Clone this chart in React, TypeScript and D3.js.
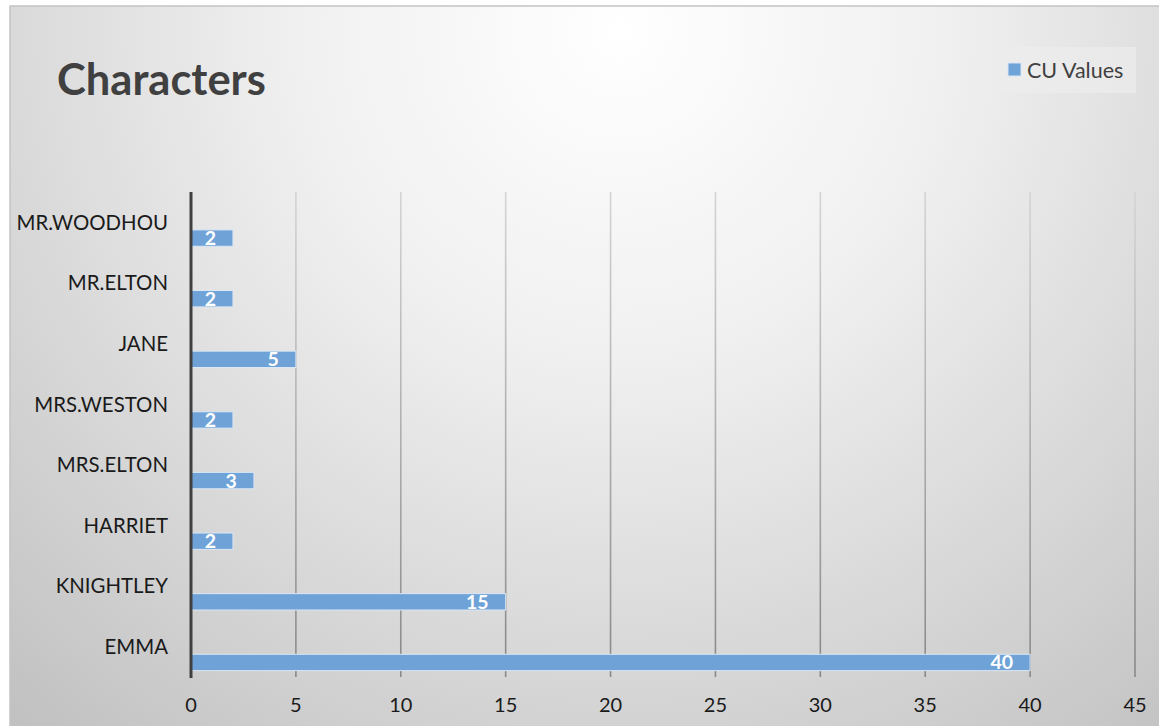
import React from "react";
import * as d3 from "d3";

const categories = ["EMMA", "KNIGHTLEY", "HARRIET", "MRS.ELTON", "MRS.WESTON", "JANE", "MR.ELTON", "MR.WOODHOU"];
const cuValues = [40, 15, 2, 3, 2, 5, 2, 2];
const xTicks = [0, 5, 10, 15, 20, 25, 30, 35, 40, 45];
const seriesName = "CU Values";
const title = "Characters";

const W = 1159;
const H = 726;
const FONT = "Lato, 'Open Sans', sans-serif";

export default function App() {
  const x = d3.scaleLinear().domain([0, 45]).range([191, 1135]);
  const y = d3.scaleBand().domain([...categories].reverse()).range([192, 677]).paddingInner(0).paddingOuter(0);
  const bw = y.bandwidth();
  const barTop = (c: string) => (y(c) as number) + bw * 0.625;
  const barH = bw * 0.27;

  return (
    <svg width={W} height={H} style={{ position: "absolute", left: 0, top: 0 }} fontFamily={FONT}>
      <defs>
        <radialGradient id="bg" gradientUnits="userSpaceOnUse" cx={620} cy={30} r={930}>
          <stop offset="0" stopColor="#ffffff" />
          <stop offset="0.35" stopColor="#f0f0f0" />
          <stop offset="1" stopColor="#c0c0c0" />
        </radialGradient>
        <linearGradient id="grid" gradientUnits="userSpaceOnUse" x1={0} y1={192} x2={0} y2={677}>
          <stop offset="0" stopColor="#d4d4d4" />
          <stop offset="1" stopColor="#888888" />
        </linearGradient>
      </defs>
      <rect x={0} y={0} width={W} height={H} fill="#ffffff" />
      <rect x={10} y={6} width={W + 20} height={H + 20} fill="url(#bg)" stroke="#c4c4c4" strokeWidth={1.5} />

      <text x={57} y={95} fontSize={43.5} fontWeight={700} fill="#404040">{title}</text>

      {/* legend */}
      <rect x={986} y={47} width={150} height={46} fill="#ececec" opacity={0.7} />
      <rect x={1008} y={63} width={13} height={13} fill="#6fa3d8" stroke="#d6e4f2" strokeWidth={1} />
      <text x={1027} y={77.5} fontSize={21.5} fill="#404040">{seriesName}</text>

      {/* gridlines */}
      {xTicks.slice(1).map((t) => (
        <line key={t} x1={x(t)} x2={x(t)} y1={192} y2={677} stroke="url(#grid)" strokeWidth={1.6} />
      ))}

      {/* bars */}
      {categories.map((c, i) => (
        <rect
          key={c}
          x={x(0)}
          y={barTop(c)}
          width={x(cuValues[i]) - x(0)}
          height={barH}
          fill="#6fa3d8"
          stroke="#dbe7f4"
          strokeWidth={1}
        />
      ))}

      {/* data labels */}
      {categories.map((c, i) => (
        <text
          key={c + "l"}
          x={x(cuValues[i]) - 17}
          y={barTop(c) + barH / 2}
          dy="0.36em"
          textAnchor="end"
          fontSize={19.5}
          fontWeight={700}
          fill="#ffffff"
        >
          {cuValues[i]}
        </text>
      ))}

      {/* axis line */}
      <line x1={x(0)} x2={x(0)} y1={192} y2={678} stroke="#404040" strokeWidth={3} />

      {/* category labels */}
      {categories.map((c) => (
        <text
          key={c + "c"}
          x={168}
          y={(y(c) as number) + bw / 2}
          dy="0.36em"
          textAnchor="end"
          fontSize={20.4}
          fill="#1a1a1a"
        >
          {c}
        </text>
      ))}

      {/* x tick labels */}
      {xTicks.map((t) => (
        <text key={t + "t"} x={x(t)} y={705} dy="0.36em" textAnchor="middle" fontSize={20} fill="#1a1a1a">
          {t}
        </text>
      ))}
    </svg>
  );
}
